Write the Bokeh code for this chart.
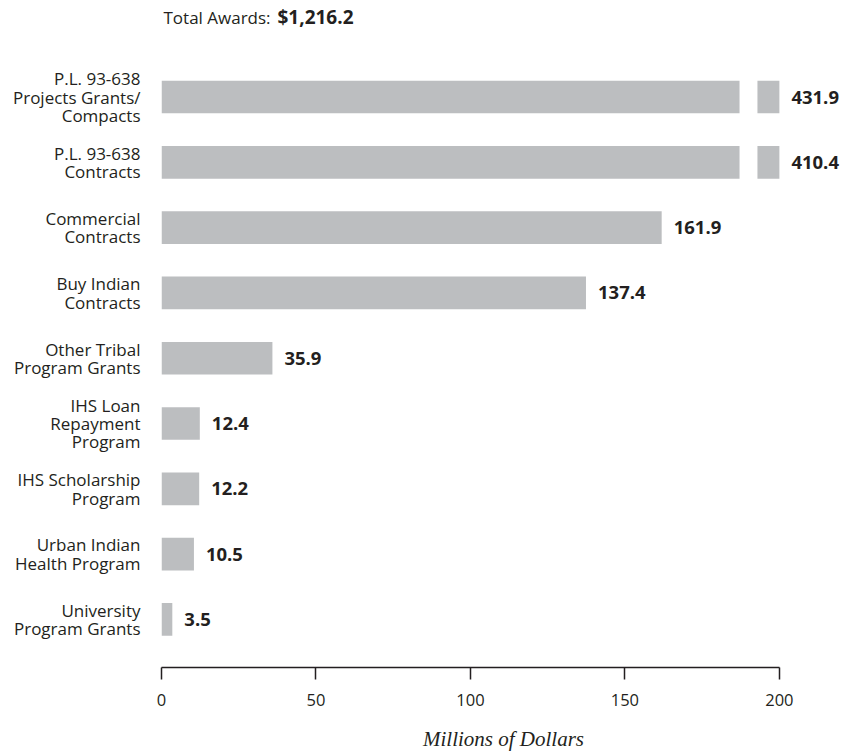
from bokeh.plotting import figure
from bokeh.models import Range1d, FixedTicker, ColumnDataSource
from bokeh.core.properties import value
from bokeh.embed import file_html
from bokeh.resources import INLINE

# ---- data ----
categories = [
    "P.L. 93-638\nProjects Grants/\nCompacts",
    "P.L. 93-638\nContracts",
    "Commercial\nContracts",
    "Buy Indian\nContracts",
    "Other Tribal\nProgram Grants",
    "IHS Loan\nRepayment\nProgram",
    "IHS Scholarship\nProgram",
    "Urban Indian\nHealth Program",
    "University\nProgram Grants",
]
awards = [431.9, 410.4, 161.9, 137.4, 35.9, 12.4, 12.2, 10.5, 3.5]
x_ticks = [0, 50, 100, 150, 200]
total_label = "Total Awards:"
total_value = "$1,216.2"
x_label = "Millions of Dollars"

# ---- style ----
AXIS_MAX = 200
BREAK_AT = 187.1
RESUME_AT = 192.9
BAR_COLOR = "#bcbec0"
TEXT_COLOR = "#231f20"
FONT = "Open Sans"
BAR_H = 0.5

idx = list(range(len(categories)))

p = figure(width=845, height=753, output_backend="svg", toolbar_location=None,
           x_range=Range1d(0, 221.4), y_range=Range1d(8.736, -1.478),
           min_border_left=161, min_border_right=0, min_border_top=0,
           min_border_bottom=86)
p.outline_line_color = None
p.xgrid.visible = False
p.ygrid.visible = False
p.background_fill_color = "white"
p.border_fill_color = "white"

# bars (broken for values beyond the axis)
main_right = [v if v <= AXIS_MAX else BREAK_AT for v in awards]
src = ColumnDataSource(dict(y=idx, left=[0] * len(idx), right=main_right))
p.hbar(y="y", left="left", right="right", height=BAR_H, source=src,
       fill_color=BAR_COLOR, line_color=None)

big = [i for i, v in enumerate(awards) if v > AXIS_MAX]
src2 = ColumnDataSource(dict(y=big, left=[RESUME_AT] * len(big),
                             right=[AXIS_MAX] * len(big)))
p.hbar(y="y", left="left", right="right", height=BAR_H, source=src2,
       fill_color=BAR_COLOR, line_color=None)

# value labels
lab = ColumnDataSource(dict(x=[min(v, AXIS_MAX) for v in awards], y=idx,
                            t=["%.1f" % v for v in awards]))
p.text(x="x", y="y", text="t", source=lab, x_offset=12,
       text_align="left", text_baseline="middle",
       text_font=value(FONT), text_font_style="bold",
       text_font_size="18.5px", text_color=TEXT_COLOR)

# title
title_y = -1.218
p.text(x=[0], y=[title_y], text=[total_label], x_offset=2,
       text_align="left", text_baseline="middle", text_font=value(FONT),
       text_font_size="17px", text_color=TEXT_COLOR)
p.text(x=[0], y=[title_y], text=[total_value], x_offset=116,
       text_align="left", text_baseline="middle", text_font=value(FONT),
       text_font_style="bold", text_font_size="19px", text_color=TEXT_COLOR)

# y axis
ya = p.yaxis[0]
ya.ticker = FixedTicker(ticks=idx)
ya.major_label_overrides = {i: c for i, c in zip(idx, categories)}
ya.axis_line_color = None
ya.major_tick_line_color = None
ya.minor_tick_line_color = None
ya.major_tick_in = 0
ya.major_tick_out = 0
ya.major_label_standoff = 21
ya.major_label_text_font = FONT
ya.major_label_text_font_size = "17px"
ya.major_label_text_line_height = 0.8
ya.major_label_text_color = TEXT_COLOR

# x axis
xa = p.xaxis[0]
xa.ticker = FixedTicker(ticks=x_ticks)
xa.bounds = (0, AXIS_MAX)
xa.axis_line_color = TEXT_COLOR
xa.axis_line_width = 1.5
xa.major_tick_line_color = TEXT_COLOR
xa.major_tick_line_width = 1.5
xa.major_tick_in = 0
xa.major_tick_out = 12
xa.minor_tick_line_color = None
xa.major_label_standoff = 14
xa.major_label_text_font = FONT
xa.major_label_text_font_size = "16.5px"
xa.major_label_text_color = TEXT_COLOR
xa.axis_label = x_label
xa.axis_label_text_font = "Liberation Serif"
xa.axis_label_text_font_style = "italic"
xa.axis_label_text_font_size = "21px"
xa.axis_label_text_color = TEXT_COLOR
xa.axis_label_standoff = 18

open("out.html", "w").write(file_html(p, INLINE))
